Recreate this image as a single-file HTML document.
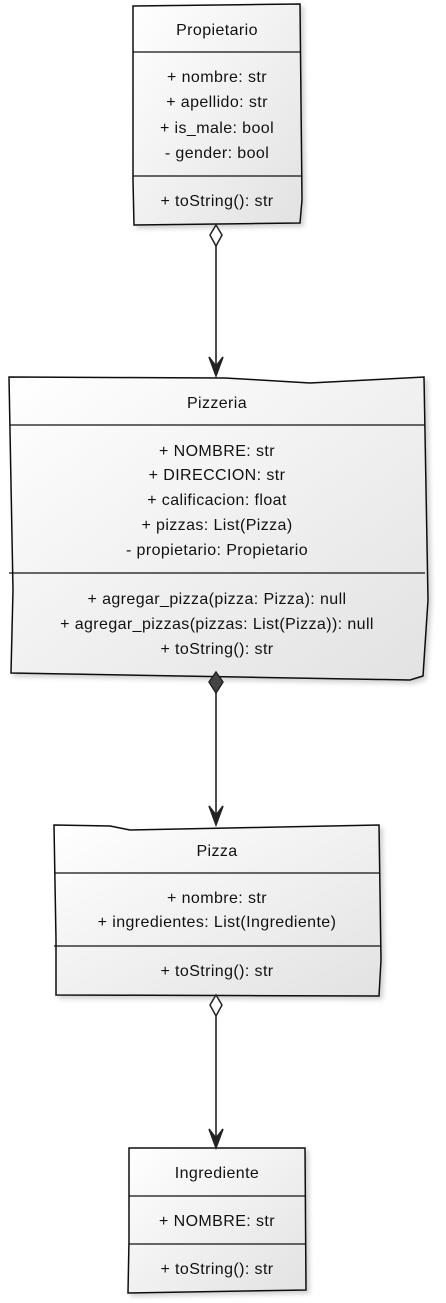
<!DOCTYPE html>
<html><head><meta charset="utf-8"><style>
html,body{margin:0;padding:0;background:#fff;width:446px;height:1303px;overflow:hidden}
text{font-family:"Liberation Sans",sans-serif;font-size:16px;letter-spacing:0.4px;fill:#111;text-anchor:middle}
</style></head><body>
<svg width="446" height="1303" viewBox="0 0 446 1303" xmlns="http://www.w3.org/2000/svg">
<defs>
<linearGradient id="g" x1="0" y1="0" x2="1" y2="1"><stop offset="0" stop-color="#ffffff"/><stop offset="1" stop-color="#e2e2e2"/></linearGradient>
<filter id="s" x="-10%" y="-10%" width="130%" height="130%"><feDropShadow dx="3" dy="3" stdDeviation="2.5" flood-color="#000" flood-opacity="0.18"/></filter>
</defs>
<g stroke="#111" stroke-width="1.5" fill="url(#g)" filter="url(#s)">
<path d="M133 6 L300 4 L302 200 L300 223 L134 225 L133 180 Z"/>
<path d="M9 377 L225 378 L310 383 L424 377 L428 600 L423 676 L410 680 L11 673 L13 590 Z"/>
<path d="M54 825 L110 826 L130 830 L379 825 L381 960 L379 996 L56 995 L56 940 Z"/>
<path d="M129 1148 L305 1148 L306 1290 L128 1293 L129 1240 Z"/>
</g>
<g stroke="#111" stroke-width="1.3">
<line x1="133" y1="52" x2="301" y2="52"/><line x1="133" y1="176" x2="301" y2="176"/>
<line x1="10" y1="425" x2="425" y2="425"/><line x1="9" y1="573" x2="425" y2="573"/>
<line x1="54" y1="873" x2="380" y2="873"/><line x1="54" y1="946" x2="380" y2="946"/>
<line x1="129" y1="1196" x2="305" y2="1196"/><line x1="129" y1="1244" x2="305" y2="1244"/>
</g>
<g stroke="#222" stroke-width="1.6" fill="none">
<line x1="216" y1="246" x2="216" y2="374"/>
<line x1="216" y1="693" x2="216" y2="822"/>
<line x1="216" y1="1016" x2="216" y2="1145"/>
</g>
<g stroke="#222" stroke-width="1.5">
<path d="M216 225 L222 235 L216 246 L210 235 Z" fill="#fff"/>
<path d="M216 672 L223 682 L216 693 L209 682 Z" fill="#444"/>
<path d="M216 995 L222 1005 L216 1016 L210 1005 Z" fill="#fff"/>
<path d="M209 357 L216 376 L223 357 L216 366 Z" fill="#222"/>
<path d="M209 806 L216 825 L223 806 L216 815 Z" fill="#222"/>
<path d="M209 1129 L216 1148 L223 1129 L216 1138 Z" fill="#222"/>
</g>
<text x="217" y="35">Propietario</text>
<text x="217" y="82">+ nombre: str</text>
<text x="217" y="107">+ apellido: str</text>
<text x="217" y="133">+ is_male: bool</text>
<text x="217" y="158">- gender: bool</text>
<text x="217" y="206">+ toString(): str</text>
<text x="217" y="408">Pizzeria</text>
<text x="217" y="456">+ NOMBRE: str</text>
<text x="217" y="480">+ DIRECCION: str</text>
<text x="217" y="505">+ calificacion: float</text>
<text x="217" y="530">+ pizzas: List(Pizza)</text>
<text x="217" y="555">- propietario: Propietario</text>
<text x="217" y="604">+ agregar_pizza(pizza: Pizza): null</text>
<text x="217" y="629">+ agregar_pizzas(pizzas: List(Pizza)): null</text>
<text x="217" y="654">+ toString(): str</text>
<text x="217" y="856">Pizza</text>
<text x="217" y="903">+ nombre: str</text>
<text x="217" y="927">+ ingredientes: List(Ingrediente)</text>
<text x="217" y="976">+ toString(): str</text>
<text x="217" y="1178">Ingrediente</text>
<text x="217" y="1226">+ NOMBRE: str</text>
<text x="217" y="1274">+ toString(): str</text>
</svg>
</body></html>
